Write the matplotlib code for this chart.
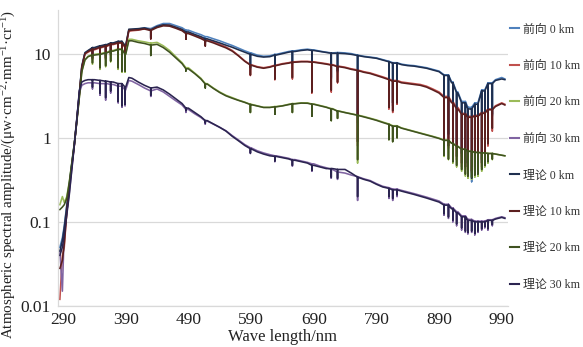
import numpy as np
import matplotlib
matplotlib.use('Agg')
import matplotlib.pyplot as plt
from matplotlib.ticker import FixedLocator, FixedFormatter, NullLocator

plt.rcParams['font.family'] = ['Liberation Serif', 'Noto Sans CJK SC']
plt.rcParams['mathtext.fontset'] = 'custom'
plt.rcParams['mathtext.rm'] = 'Liberation Serif'
plt.rcParams['mathtext.it'] = 'Liberation Serif:italic'

# ---------------- data ----------------
wavelength = [285, 289, 292, 296, 300, 304, 308, 312, 316, 320,
              325, 330, 340, 350, 360, 370, 380, 390, 395, 400,
              410, 420, 430, 440, 450, 460, 470, 480, 490, 500,
              510, 520, 530, 540, 550, 560, 570, 580, 590, 600,
              610, 620, 630, 640, 650, 660, 670, 680, 690, 700,
              710, 720, 730, 740, 750, 760, 770, 780, 790, 800,
              810, 820, 830, 840, 850, 860, 870, 880, 890, 900,
              910, 920, 930, 940, 950, 960, 970, 980, 990, 995]

fw_0km = [0.05, 0.065, 0.09, 0.16, 0.28, 0.5, 0.85, 1.7, 3.4, 7.2,
          10.3, 10.8, 11.5, 12.1, 12.6, 13.2, 13.8, 12.2, 19, 19.2,
          19.5, 20.3, 19.8, 21.5, 22.8, 22.8, 21.5, 20.3, 19, 17.8,
          16.8, 15.9, 15, 14.2, 13.3, 12.5, 11.6, 10.8, 10.2, 9.6,
          9.3, 9.4, 9.8, 10.2, 10.6, 10.8, 11.1, 11.3, 11.1, 10.7,
          10.4, 10.2, 10.3, 10.2, 10, 9.6, 9.3, 9.1, 8.9, 8.5,
          8.1, 7.8, 7.5, 7.3, 7.2, 7, 6.8, 6.5, 6.2, 5.6,
          4.6, 3.5, 2.7, 2.3, 2.6, 3.7, 4.5, 4.9, 5.2, 5.0]

fw_10km = [0.012, 0.04, 0.05, 0.13, 0.25, 0.46, 0.8, 1.6, 3.2, 6.8,
           9.9, 10.4, 11.1, 11.7, 12.2, 12.8, 13.3, 11.8, 18.5, 18.7,
           19, 19.8, 19.2, 20.8, 22, 21.8, 20.5, 19.2, 17.8, 16.6,
           15.5, 14.6, 13.8, 12.9, 12, 10.9, 9.5, 8.2, 7.4, 7,
           6.8, 7, 7.3, 7.6, 7.8, 8, 8.1, 8.1, 8, 7.8,
           7.6, 7.4, 7.1, 6.9, 6.6, 6.4, 6.1, 5.9, 5.6, 5.3,
           5, 4.8, 4.6, 4.5, 4.4, 4.3, 4.1, 3.8, 3.5, 3.1,
           2.7, 2.3, 1.95, 1.8, 1.85, 2, 2.2, 2.4, 2.6, 2.5]

fw_20km = [0.16, 0.2, 0.17, 0.2, 0.3, 0.5, 0.85, 1.55, 3.0, 6.2,
           8.5, 9.3, 9.8, 10, 10.4, 10.9, 11.4, 10, 14.8, 14.8,
           14.2, 13.8, 13.3, 13.6, 12.4, 10.9, 9.2, 7.8, 6.8, 5.9,
           5.1, 4.4, 3.9, 3.5, 3.2, 3.0, 2.8, 2.65, 2.5, 2.4,
           2.3, 2.3, 2.35, 2.4, 2.5, 2.55, 2.6, 2.6, 2.52, 2.42,
           2.32, 2.22, 2.08, 2.0, 1.93, 1.86, 1.79, 1.71, 1.63, 1.54,
           1.46, 1.39, 1.31, 1.25, 1.19, 1.14, 1.09, 1.04, 0.99, 0.94,
           0.86, 0.79, 0.73, 0.69, 0.67, 0.66, 0.65, 0.64, 0.62, 0.61]

fw_30km = [0.045, 0.015, 0.08, 0.13, 0.22, 0.42, 0.82, 1.6, 3.4, 4.2,
           4.4, 4.5, 4.5, 4.4, 4.4, 4.3, 4.1, 3.7, 4.8, 4.7,
           4.3, 3.9, 3.6, 3.8, 3.5, 3.1, 2.75, 2.45, 2.17, 1.93,
           1.74, 1.58, 1.45, 1.33, 1.21, 1.06, 0.94, 0.83, 0.76, 0.7,
           0.66, 0.63, 0.61, 0.59, 0.57, 0.55, 0.53, 0.51, 0.49, 0.46,
           0.44, 0.42, 0.39, 0.38, 0.36, 0.345, 0.325, 0.31, 0.285, 0.265,
           0.255, 0.245, 0.237, 0.227, 0.217, 0.207, 0.197, 0.187, 0.177, 0.162,
           0.147, 0.132, 0.118, 0.107, 0.102, 0.102, 0.106, 0.11, 0.115, 0.112]

th_0km = [0.045, 0.06, 0.085, 0.15, 0.27, 0.48, 0.82, 1.65, 3.3, 7.0,
          10.2, 10.9, 11.8, 12.4, 12.8, 13.4, 14, 12.5, 19.5, 19.6,
          19.8, 20.2, 19.2, 21, 22, 21.8, 20.6, 19.4, 18.1, 16.9,
          15.9, 15, 14.2, 13.4, 12.6, 11.9, 11.1, 10.4, 9.8, 9.3,
          9.1, 9.2, 9.6, 10, 10.4, 10.6, 10.9, 11.1, 10.9, 10.6,
          10.3, 10.1, 10.1, 10, 9.8, 9.5, 9.2, 9, 8.8, 8.4,
          8, 7.7, 7.4, 7.2, 7.1, 6.9, 6.7, 6.4, 6.1, 5.5,
          4.5, 3.4, 2.6, 2.2, 2.5, 3.6, 4.4, 4.8, 5.0, 4.9]

th_10km = [0.028, 0.035, 0.055, 0.13, 0.26, 0.47, 0.82, 1.62, 3.25, 6.9,
           10, 10.6, 11.3, 11.9, 12.4, 13, 13.5, 12, 18.8, 19,
           19.2, 19.6, 18.8, 20.4, 21.4, 21.2, 20, 18.7, 17.3, 16.2,
           15.1, 14.2, 13.4, 12.5, 11.7, 10.7, 9.4, 8.1, 7.3, 6.9,
           6.7, 6.9, 7.2, 7.5, 7.7, 7.9, 8, 8, 7.9, 7.7,
           7.5, 7.3, 7, 6.8, 6.5, 6.3, 6, 5.8, 5.5, 5.2,
           4.9, 4.7, 4.5, 4.4, 4.3, 4.2, 4, 3.7, 3.4, 3,
           2.6, 2.2, 1.9, 1.75, 1.8, 1.95, 2.15, 2.35, 2.55, 2.45]

th_20km = [0.14, 0.15, 0.16, 0.19, 0.29, 0.49, 0.84, 1.55, 3.0, 6.1,
           8.4, 9.2, 9.6, 9.8, 10.2, 10.7, 11.2, 9.8, 14.2, 14.2,
           13.6, 13.2, 12.6, 12.9, 11.8, 10.4, 8.9, 7.6, 6.6, 5.8,
           5.0, 4.35, 3.85, 3.45, 3.15, 2.95, 2.78, 2.63, 2.48, 2.38,
           2.29, 2.29, 2.33, 2.39, 2.48, 2.53, 2.58, 2.57, 2.5, 2.4,
           2.3, 2.2, 2.07, 1.99, 1.92, 1.85, 1.77, 1.69, 1.61, 1.52,
           1.44, 1.37, 1.3, 1.24, 1.18, 1.13, 1.08, 1.03, 0.98, 0.93,
           0.86, 0.79, 0.73, 0.69, 0.67, 0.66, 0.65, 0.64, 0.62, 0.61]

th_30km = [0.04, 0.05, 0.07, 0.12, 0.21, 0.41, 0.8, 1.6, 3.6, 4.6,
           4.8, 4.9, 4.9, 4.8, 4.7, 4.6, 4.4, 4.0, 5.2, 5.1,
           4.6, 4.2, 3.9, 4.0, 3.7, 3.3, 2.9, 2.55, 2.25, 2.0,
           1.78, 1.6, 1.46, 1.33, 1.2, 1.04, 0.92, 0.81, 0.74, 0.68,
           0.64, 0.61, 0.6, 0.58, 0.56, 0.54, 0.52, 0.5, 0.47, 0.45,
           0.43, 0.43, 0.42, 0.42, 0.38, 0.34, 0.32, 0.305, 0.28, 0.26,
           0.25, 0.24, 0.232, 0.222, 0.212, 0.202, 0.192, 0.182, 0.172, 0.158,
           0.143, 0.128, 0.115, 0.104, 0.1, 0.1, 0.104, 0.108, 0.113, 0.11]

# absorption lines (wavelength) and the minimum each series reaches there
dip_wl = [337, 349, 358, 366, 378, 384, 389, 430, 486, 517,
          589, 628, 656, 687, 718, 728, 760, 810, 816, 823,
          898, 905, 912, 918, 926, 932, 936, 942, 947, 952,
          958, 963, 968, 975]

fw_0km_dip = [9, 8.5, 9, 10, 8.5, 7.5, 8, 15.5, 16, 14,
              6.5, 6, 7.5, 4, 5, 6, 1.5, 3, 2.4, 3,
              1.2, 1.0, 0.9, 0.8, 0.6, 0.45, 0.35, 0.3, 0.4, 0.35,
              0.5, 0.8, 1.2, 1.8]
fw_10km_dip = [8.5, 8, 8.5, 9.5, 8, 7, 7.5, 15, 15, 12.5,
               5.5, 4.9, 5, 3.4, 3.5, 4.5, 0.8, 2.2, 2, 2.5,
               0.9, 0.75, 0.6, 0.55, 0.45, 0.42, 0.4, 0.38, 0.42, 0.4,
               0.45, 0.55, 0.8, 1.2]
fw_20km_dip = [7.5, 6.5, 7, 8, 6.5, 6, 6, 9.7, 6.3, 4.0,
               2.0, 1.9, 2.0, 1.8, 1.6, 1.7, 0.5, 0.95, 0.9, 1.0,
               0.6, 0.55, 0.5, 0.45, 0.4, 0.35, 0.33, 0.32, 0.34, 0.35,
               0.4, 0.45, 0.5, 0.55]
fw_30km_dip = [3.8, 3.2, 2.8, 3.4, 2.6, 2.3, 2.4, 3.1, 2.0, 1.45,
               0.65, 0.52, 0.46, 0.4, 0.33, 0.32, 0.18, 0.19, 0.18, 0.2,
               0.12, 0.11, 0.1, 0.09, 0.08, 0.075, 0.072, 0.075, 0.07, 0.075,
               0.08, 0.085, 0.08, 0.09]
th_0km_dip = [9.5, 9, 9.5, 10.5, 9, 8, 8.5, 15.5, 16, 13.5,
              6.8, 6.2, 7.8, 4.2, 5.2, 6.2, 1.8, 3.2, 2.6, 3.2,
              1.3, 1.1, 0.95, 0.85, 0.65, 0.5, 0.38, 0.33, 0.42, 0.38,
              0.55, 0.85, 1.3, 1.9]
th_10km_dip = [8.8, 8.3, 8.8, 9.8, 8.3, 7.3, 7.8, 15, 14.8, 12.3,
               5.6, 5, 5.2, 3.5, 3.7, 4.6, 0.9, 2.3, 2.1, 2.6,
               0.95, 0.8, 0.65, 0.6, 0.5, 0.45, 0.42, 0.4, 0.45, 0.42,
               0.5, 0.6, 0.85, 1.3]
th_20km_dip = [7.8, 6.8, 7.2, 8.2, 6.8, 6.2, 6.2, 9.5, 6.2, 3.9,
               2.0, 1.9, 2.0, 1.8, 1.6, 1.7, 0.55, 0.95, 0.9, 1.0,
               0.62, 0.56, 0.52, 0.47, 0.42, 0.37, 0.35, 0.34, 0.36, 0.37,
               0.42, 0.47, 0.52, 0.56]
th_30km_dip = [4.0, 3.4, 3.0, 3.6, 2.7, 2.4, 2.5, 3.2, 2.1, 1.5,
               0.66, 0.53, 0.47, 0.41, 0.34, 0.33, 0.2, 0.2, 0.19, 0.21,
               0.125, 0.115, 0.105, 0.095, 0.085, 0.078, 0.075, 0.078, 0.073, 0.078,
               0.083, 0.088, 0.083, 0.093]

series_labels = ['前向 0 km', '前向 10 km', '前向 20 km', '前向 30 km',
                 '理论 0 km', '理论 10 km', '理论 20 km', '理论 30 km']
x_ticks = [290, 390, 490, 590, 690, 790, 890, 990]
y_ticks = [0.01, 0.1, 1, 10]
y_tick_labels = ['0.01', '0.1', '1', '10']

series = [(fw_0km, fw_0km_dip), (fw_10km, fw_10km_dip),
          (fw_20km, fw_20km_dip), (fw_30km, fw_30km_dip),
          (th_0km, th_0km_dip), (th_10km, th_10km_dip),
          (th_20km, th_20km_dip), (th_30km, th_30km_dip)]
colors = ['#4F81BD', '#C0504D', '#9BBB59', '#8064A2',
          '#1F2F4F', '#5C1F1F', '#3F5220', '#2B2450']


def build(cont, dips):
    w = np.asarray(wavelength, float)
    c = np.asarray(cont, float)
    dw = np.asarray(dip_wl, float)
    idx = np.abs(w[None, :] - dw[:, None]).argmin(axis=1)
    top = c[idx]
    xs = np.concatenate([w, np.repeat(dw, 3)])
    ys = np.concatenate([c, np.column_stack([top, np.asarray(dips, float), top]).ravel()])
    order = np.argsort(xs, kind='stable')
    return xs[order], ys[order]


# ---------------- figure ----------------
fig = plt.figure(figsize=(5.83, 3.47), dpi=100)
ax = fig.add_axes([58 / 583, 1 - 306 / 347, 450 / 583, 296 / 347])

handles = []
for (cont, dips), col, lab in zip(series, colors, series_labels):
    xs, ys = build(cont, dips)
    h, = ax.plot(xs, ys, color=col, lw=1.15, label=lab)
    handles.append(h)

ax.set_yscale('log')
ax.set_xlim(282, 1000)
ax.set_ylim(0.01, 33)
ax.yaxis.set_major_locator(FixedLocator(y_ticks))
ax.yaxis.set_major_formatter(FixedFormatter(y_tick_labels))
ax.yaxis.set_minor_locator(NullLocator())
ax.set_xticks(x_ticks)
ax.set_xticklabels([str(t) for t in x_ticks])
ax.tick_params(axis='both', length=0, labelsize=12.5, colors='#222222')
ax.tick_params(axis='y', pad=5)
ax.tick_params(axis='x', pad=4)

ax.grid(axis='y', color='#D9D9D9', lw=0.9)
ax.set_axisbelow(True)
for s in ['top', 'right']:
    ax.spines[s].set_visible(False)
for s in ['left', 'bottom']:
    ax.spines[s].set_color('#D9D9D9')
    ax.spines[s].set_linewidth(0.9)

ax.set_xlabel('Wave length/nm', fontsize=12, labelpad=1, color='#222222')
ax.set_ylabel('Atmospheric spectral amplitude/(μw·cm$^{-2}$·mm$^{-1}$·cr$^{-1}$)',
              fontsize=10.8, color='#222222')
ax.yaxis.set_label_coords(-0.088, 0.445)

leg = fig.legend(handles=handles, labels=series_labels, loc='upper left',
                 bbox_to_anchor=(510 / 583, 1 - 23.5 / 347), frameon=False,
                 fontsize=8.6, handlelength=0.75, handletextpad=0.35,
                 labelspacing=2.05, borderaxespad=0, borderpad=0)
for t in leg.get_texts():
    t.set_color('#333333')
for lh in leg.get_lines():
    lh.set_linewidth(1.5)

fig.savefig('out.png', dpi=100)
